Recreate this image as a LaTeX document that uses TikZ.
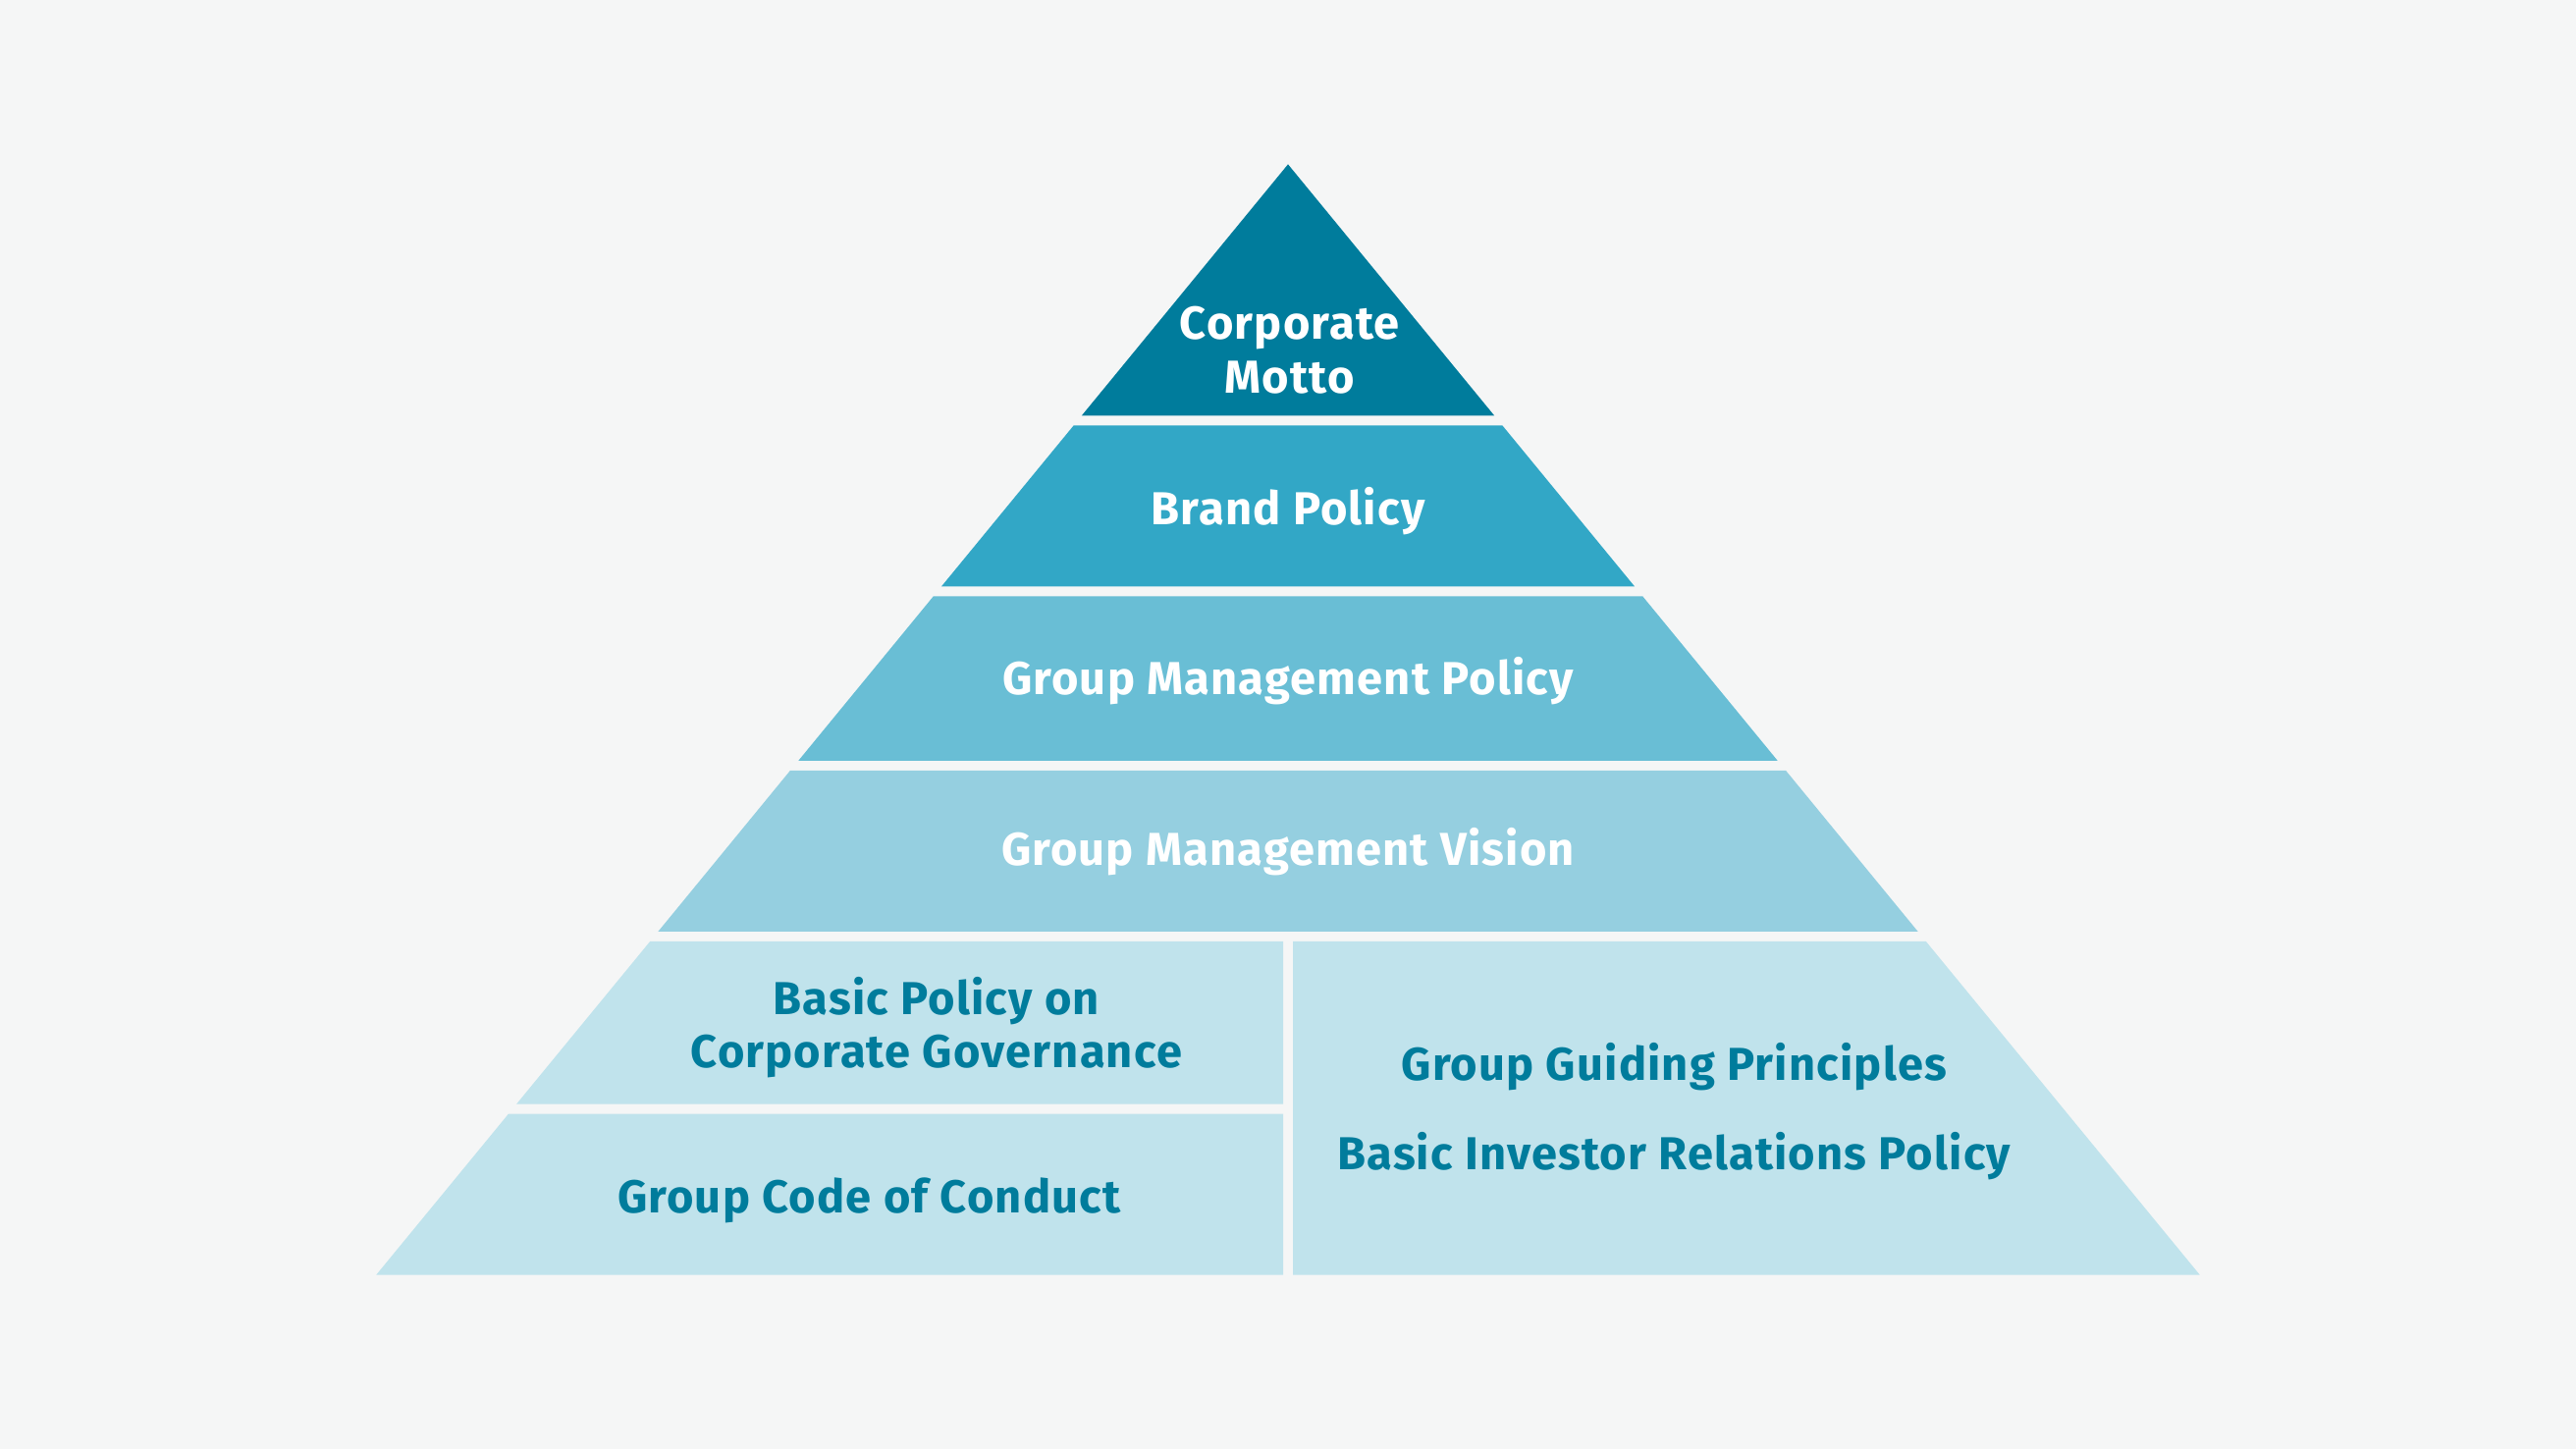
\documentclass[tikz,border=0pt]{standalone}
\usepackage{fontspec}
\setmainfont{Fira Sans}[LetterSpace=2.5]
\definecolor{bgcol}{HTML}{F5F6F6}
\definecolor{mottocol}{HTML}{007C9C}
\definecolor{brandcol}{HTML}{32A7C6}
\definecolor{policycol}{HTML}{69BED5}
\definecolor{visioncol}{HTML}{95CFE0}
\definecolor{basecol}{HTML}{C0E3EC}
\definecolor{basetext}{HTML}{007C9C}
\tikzset{
  lighttext/.style={text=white, font=\bfseries\fontsize{8}{9.3}\selectfont, align=center, inner sep=0pt},
  darktext/.style={text=basetext, font=\bfseries\fontsize{8}{9.3}\selectfont, align=center, inner sep=0pt}
}
\begin{document}
\begin{tikzpicture}
\useasboundingbox[fill=bgcol] (0,0) rectangle (15.68,8.82);
% pyramid bands, top to bottom
\fill[mottocol]  (7.84,7.82) -- (9.096,6.29) -- (6.584,6.29) -- cycle;
\fill[brandcol]  (6.535,6.23) -- (9.145,6.23) -- (9.950,5.25) -- (5.730,5.25) -- cycle;
\fill[policycol] (5.681,5.19) -- (9.999,5.19) -- (10.820,4.19) -- (4.860,4.19) -- cycle;
\fill[visioncol] (4.810,4.13) -- (10.870,4.13) -- (11.674,3.15) -- (4.006,3.15) -- cycle;
% base split in three parts
\fill[basecol]   (3.957,3.09) -- (7.81,3.09) -- (7.81,2.10) -- (3.144,2.10) -- cycle;
\fill[basecol]   (3.095,2.04) -- (7.81,2.04) -- (7.81,1.06) -- (2.290,1.06) -- cycle;
\fill[basecol]   (7.87,3.09) -- (11.723,3.09) -- (13.390,1.06) -- (7.87,1.06) -- cycle;
% labels
\node[lighttext] (motto)  at (7.85,6.69) {Corporate\\Motto};
\node[lighttext] (brand)  at (7.84,5.71) {Brand Policy};
\node[lighttext] (policy) at (7.84,4.675) {Group Management Policy};
\node[lighttext] (vision) at (7.84,3.635) {Group Management Vision};
\node[darktext]  (governance) at (5.70,2.565) {Basic Policy on\\Corporate Governance};
\node[darktext]  (conduct)    at (5.29,1.515) {Group Code of Conduct};
\node[darktext]  (principles) at (10.19,2.325) {Group Guiding Principles};
\node[darktext]  (investor)   at (10.19,1.785) {Basic Investor Relations Policy};
\end{tikzpicture}
\end{document}
